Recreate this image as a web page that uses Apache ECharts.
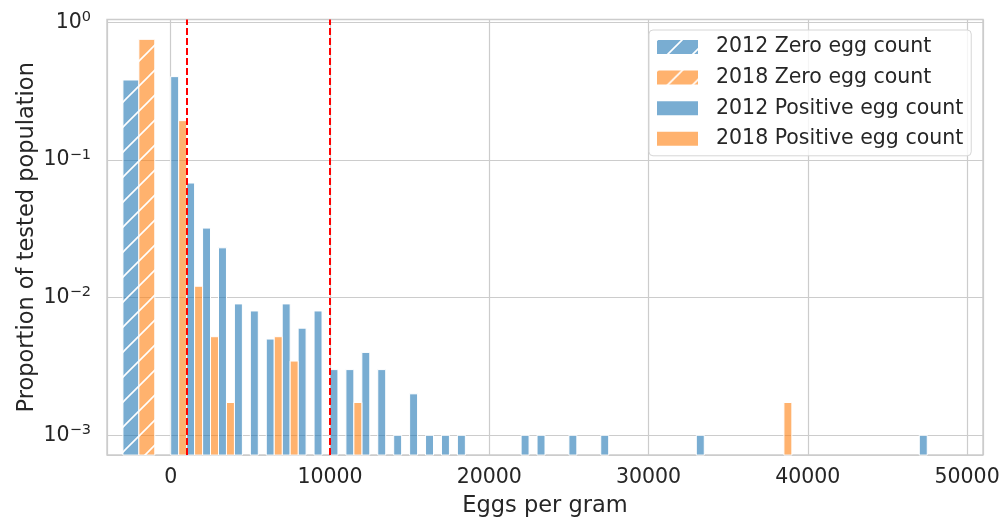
<!DOCTYPE html>
<html>
<head>
<meta charset="utf-8">
<script src="https://cdn.jsdelivr.net/npm/echarts@6/dist/echarts.min.js"></script>
<style>
html,body{margin:0;padding:0;background:#fff;}
#chart{width:1000px;height:517px;}
</style>
</head>
<body>
<div id="chart"></div>
<script>
// ---- data ----
const binWidth = 1000;
const bins2012 = [0,1000,2000,3000,4000,5000,6000,7000,8000,9000,10000,11000,12000,13000,14000,15000,16000,17000,18000,22000,23000,25000,27000,33000,47000];
const pos2012  = [0.403,0.068,0.032,0.023,0.009,0.008,0.005,0.009,0.006,0.008,0.003,0.003,0.004,0.003,0.001,0.002,0.001,0.001,0.001,0.001,0.001,0.001,0.001,0.001,0.001];
const bins2018 = [0,1000,2000,3000,6000,7000,11000,38000];
const pos2018  = [0.193,0.0121,0.0052,0.00173,0.0052,0.00346,0.00173,0.00173];
const zeroBin2012 = [-3000,-2000];
const zeroBin2018 = [-2000,-1000];
const zero2012 = 0.381;
const zero2018 = 0.752;
const thresholds = [1000, 10000];
const seriesNames = ['2012 Zero egg count','2018 Zero egg count','2012 Positive egg count','2018 Positive egg count'];
const xTicks = [0,10000,20000,30000,40000,50000];

// ---- styling ----
const FONT = 'DejaVu Sans';
const TXT = '#262626';
const BLUE = 'rgba(31,119,180,0.6)';
const ORANGE = 'rgba(255,127,14,0.6)';

function hatch(color){
  const s = 25;
  const c = document.createElement('canvas');
  c.width = s; c.height = s;
  const g = c.getContext('2d');
  g.fillStyle = color; g.fillRect(0,0,s,s);
  g.strokeStyle = '#ffffff'; g.lineWidth = 1.6;
  g.beginPath();
  g.moveTo(-2, s+2); g.lineTo(s+2, -2);
  g.moveTo(-3, 3); g.lineTo(3, -3);
  g.moveTo(s-3, s+3); g.lineTo(s+3, s-3);
  g.stroke();
  return {image: c, repeat: 'repeat'};
}
const BLUE_H = hatch(BLUE);
const ORANGE_H = hatch(ORANGE);

// dodge: 2012 takes left half of bin, 2018 right half
const data2012 = bins2012.map((b,i)=>[b, b + binWidth/2, pos2012[i]]);
const data2018 = bins2018.map((b,i)=>[b + binWidth/2, b + binWidth, pos2018[i]]);
const dataZero2012 = [[zeroBin2012[0], zeroBin2012[1], zero2012]];
const dataZero2018 = [[zeroBin2018[0], zeroBin2018[1], zero2018]];

function renderBar(params, api){
  const x0 = api.value(0), x1 = api.value(1), y = api.value(2);
  const p0 = api.coord([x0, y]);
  const p1 = api.coord([x1, y]);
  const base = params.coordSys.y + params.coordSys.height;
  return {
    type: 'rect',
    shape: {x: p0[0], y: p0[1], width: p1[0]-p0[0], height: base - p0[1]},
    style: {fill: api.visual('color'), stroke: '#ffffff', lineWidth: 1}
  };
}
function barSeries(name, data, color){
  return {
    type: 'custom', name: name, data: data, renderItem: renderBar,
    encode: {x: [0,1], y: 2},
    itemStyle: {color: color},
    z: 2
  };
}

const chart = echarts.init(document.getElementById('chart'), null, {renderer: 'canvas'});
chart.setOption({
  animation: false,
  backgroundColor: '#ffffff',
  textStyle: {fontFamily: FONT},
  grid: {left: 107, right: 17, top: 19.5, bottom: 62, show: true, borderColor: '#cccccc', borderWidth: 1.4, containLabel: false, outerBoundsMode: 'none'},
  legend: {
    orient: 'vertical', left: 649, top: 30,
    padding: [6, 8, 6, 8], itemGap: 8.6,
    itemWidth: 41, itemHeight: 14,
    backgroundColor: 'rgba(255,255,255,0.8)',
    borderColor: '#d6d6d6', borderWidth: 1, borderRadius: 4,
    textStyle: {fontFamily: FONT, fontSize: 20.5, color: TXT, lineHeight: 22, padding: [0,0,0,13]},
    data: [
      {name: seriesNames[0], icon: 'rect', itemStyle: {color: BLUE_H}},
      {name: seriesNames[1], icon: 'rect', itemStyle: {color: ORANGE_H}},
      {name: seriesNames[2], icon: 'rect', itemStyle: {color: BLUE}},
      {name: seriesNames[3], icon: 'rect', itemStyle: {color: ORANGE}}
    ]
  },
  xAxis: {
    type: 'value', min: -4000, max: 51000,
    name: 'Eggs per gram', nameLocation: 'middle', nameGap: 40, nameMoveOverlap: false,
    nameTextStyle: {fontFamily: FONT, fontSize: 22.5, color: TXT},
    axisLine: {show: false}, axisTick: {show: false},
    axisLabel: {
      fontFamily: FONT, fontSize: 20.5, color: TXT, margin: 12,
      formatter: function(v){ return xTicks.indexOf(v) >= 0 ? String(v) : ''; }
    },
    splitLine: {show: true, lineStyle: {color: '#cccccc', width: 1.2}}
  },
  yAxis: {
    type: 'log', logBase: 10, min: 0.000719, max: 1.048,
    name: 'Proportion of tested population', nameLocation: 'middle', nameGap: 68, nameMoveOverlap: false,
    nameTextStyle: {fontFamily: FONT, fontSize: 22.5, color: TXT},
    axisLine: {show: false}, axisTick: {show: false},
    axisLabel: {
      fontFamily: FONT, color: TXT, margin: 16,
      formatter: function(v){
        const e = Math.log10(v); const r = Math.round(e);
        if (Math.abs(e - r) > 1e-6) return '';
        return '{b|10}{s|' + (r === 0 ? '0' : '\u2212' + (-r)) + '}';
      },
      rich: {
        b: {fontFamily: FONT, fontSize: 20.5, color: TXT},
        s: {fontFamily: FONT, fontSize: 14.5, color: TXT, padding: [0,0,10,0]}
      }
    },
    splitLine: {show: true, lineStyle: {color: '#cccccc', width: 1.2}}
  },
  series: [
    barSeries(seriesNames[0], dataZero2012, BLUE_H),
    barSeries(seriesNames[1], dataZero2018, ORANGE_H),
    barSeries(seriesNames[2], data2012, BLUE),
    barSeries(seriesNames[3], data2018, ORANGE),
    {
      type: 'line', name: 'thresholds', data: [], z: 5,
      markLine: {
        silent: true, symbol: ['none','none'], animation: false,
        label: {show: false},
        lineStyle: {color: '#ff0000', type: [7,3], width: 2},
        data: thresholds.map(t => ({xAxis: t}))
      }
    }
  ]
});
</script>
</body>
</html>
